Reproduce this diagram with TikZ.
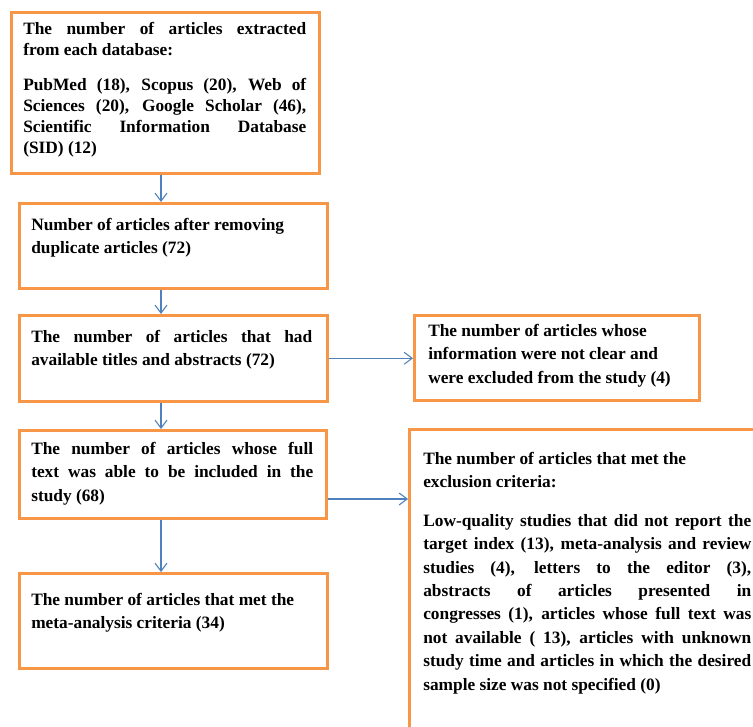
\documentclass[tikz,border=0pt]{standalone}
\usepackage{fontspec}
\setmainfont{Liberation Serif}
\usetikzlibrary{arrows.meta}
\newlength\px \setlength\px{0.75pt}
\definecolor{boxorange}{HTML}{F79646}
\definecolor{arrblue}{HTML}{4F81BD}
% #1 width, #2 height, #3 top pad, #4 left pad, #5 right pad, #6 text (all in px)
\newcommand\boxtext[6]{\parbox[t][#2\px][t]{#1\px}{\vspace*{#3\px}%
  \leftskip=#4\px \rightskip=#5\px \parindent=0pt
  \hyphenpenalty=10000 \exhyphenpenalty=10000 \tolerance=10000 \hbadness=10000
  \fontsize{13pt}{17.6pt}\selectfont\bfseries #6\par}}
\tikzset{
  box/.style={draw=boxorange, line width=1.9pt, fill=white, inner sep=0pt, anchor=north west},
  arr/.style={draw=arrblue, line width=0.8pt, -{Straight Barb[length=6pt,width=9pt]}}
}
\begin{document}
\begin{tikzpicture}[x=0.75pt,y=-0.75pt]
\fill[white] (0,0) rectangle (753,727);
\useasboundingbox (0,0) rectangle (753,727);

\node[box] (b1) at (10,11) {\boxtext{308}{161}{10}{12}{13}{\fontsize{13pt}{15.75pt}\selectfont
The number of articles extracted\linebreak from each database:\par\vspace{10.5pt}
PubMed (18), Scopus (20), Web of\linebreak Sciences (20), Google Scholar (46),\linebreak Scientific Information Database\linebreak (SID) (12)}};

\node[box] (b2) at (18,202) {\boxtext{308}{85}{15}{12}{12}{Number of articles after removing\\ duplicate articles (72)}};

\node[box] (b3) at (18,314) {\boxtext{308}{86}{15}{12}{15}{The number of articles that had\linebreak available titles and abstracts (72)}};

\node[box] (b4) at (413,314) {\boxtext{285}{85}{9}{14}{10}{The number of articles whose\\ information were not clear and\\ were excluded from the study (4)}};

\node[box] (b5) at (18,429) {\boxtext{307}{88}{12}{12}{13}{The number of articles whose full\linebreak text was able to be included in the\linebreak study (68)}};

\node[box] (b6) at (408,428) {\boxtext{356}{330}{23}{14}{14}{The number of articles that met the\\ exclusion criteria:\par\vspace{11pt}
Low-quality studies that did not report the\linebreak target index (13), meta-analysis and review\linebreak studies (4), letters to the editor (3),\linebreak abstracts of articles presented in\linebreak congresses (1), articles whose full text was\linebreak not available ( 13), articles with unknown\linebreak study time and articles in which the desired\linebreak sample size was not specified (0)}};

\node[box] (b7) at (18,572) {\boxtext{308}{95}{20}{12}{12}{The number of articles that met the\\ meta-analysis criteria (34)}};

\coordinate (ax) at (161,0);
\coordinate (ay) at (0,499);
\draw[arr] (b1.south -| ax) -- (b2.north -| ax);
\draw[arr] (b2.south -| ax) -- (b3.north -| ax);
\draw[arr] (b3.south -| ax) -- (b5.north -| ax);
\draw[arr] (b5.south -| ax) -- (b7.north -| ax);
\draw[arr] (b3.east) -- (b3.east -| b4.west);
\draw[arr] (b5.east |- ay) -- (b6.west |- ay);
\end{tikzpicture}
\end{document}
